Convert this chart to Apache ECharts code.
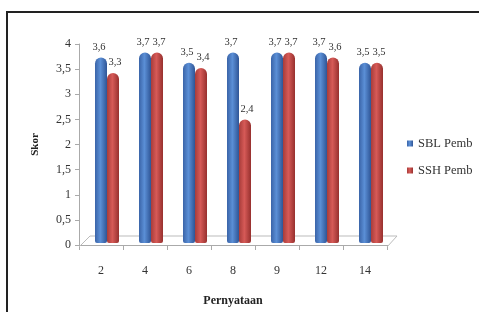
<!DOCTYPE html>
<html><head><meta charset="utf-8">
<script src="https://cdn.jsdelivr.net/npm/echarts@6/dist/echarts.min.js"></script>
<style>html,body{margin:0;padding:0;background:#fff}#c{width:479px;height:312px}</style>
</head><body><div id="c"></div>
<script>
const categories = ['2','4','6','8','9','12','14'];
const sblPemb = [3.6, 3.7, 3.5, 3.7, 3.7, 3.7, 3.5];
const sshPemb = [3.3, 3.7, 3.4, 2.4, 3.7, 3.6, 3.5];
const yTicks = [0, 0.5, 1, 1.5, 2, 2.5, 3, 3.5, 4];

const FONT = '"Liberation Serif", "Times New Roman", serif';
const fmt = v => String(v).replace('.', ',');
const chart = echarts.init(document.getElementById('c'));
function grad(c1, c2, c3){
  return new echarts.graphic.LinearGradient(0,0,1,0,[{offset:0,color:c1},{offset:0.45,color:c2},{offset:1,color:c3}]);
}
chart.setOption({
  animation:false,
  backgroundColor:'#fff',
  graphic:[
    {type:'rect', shape:{x:7,y:12,width:520,height:340}, style:{fill:'none', stroke:'#222', lineWidth:2}, z:100},
    {type:'polyline', shape:{points:[[79,247],[90,236],[397,236],[387,247]]}, style:{stroke:'#bbb', fill:'none', lineWidth:1}, z:1}
  ],
  legend:{
    orient:'vertical', left:402, top:132, itemWidth:6, itemHeight:6, itemGap:14,
    icon:'rect',
    textStyle:{fontFamily:FONT, fontSize:12.5, color:'#333'},
    data:['SBL Pemb','SSH Pemb']
  },
  grid:[
    {left:79, right:92, top:44, bottom:65},
    {left:85, right:86, top:37, bottom:69}
  ],
  xAxis:[
    {type:'category', gridIndex:0, data:categories,
     axisLine:{lineStyle:{color:'#aaa'}}, axisTick:{show:true, length:5, lineStyle:{color:'#aaa'}},
     axisLabel:{fontFamily:FONT, fontSize:12, color:'#333', margin:20},
     name:'Pernyataan', nameLocation:'middle', nameGap:50,
     nameTextStyle:{fontFamily:FONT, fontSize:12, fontWeight:'bold', color:'#222'}},
    {type:'category', gridIndex:1, data:categories, show:false}
  ],
  yAxis:[
    {type:'value', gridIndex:0, min:0, max:4, interval:0.5,
     axisLine:{show:true, lineStyle:{color:'#aaa'}}, axisTick:{show:true, length:4, lineStyle:{color:'#aaa'}},
     splitLine:{show:false},
     axisLabel:{fontFamily:FONT, fontSize:12, color:'#333', margin:8, formatter:v=>fmt(v)},
     name:'Skor', nameLocation:'middle', nameGap:38,
     nameTextStyle:{fontFamily:FONT, fontSize:11, fontWeight:'bold', color:'#222'}},
    {type:'value', gridIndex:1, min:0, max:4, show:false, splitLine:{show:false}}
  ],
  series:[
    {name:'SBL Pemb', type:'bar', xAxisIndex:1, yAxisIndex:1, data:sblPemb, barWidth:12, barGap:'0%',
     itemStyle:{color:grad('#3a64a8','#5b8fd6','#2f5596'), borderRadius:[6,6,2,2]},
     label:{show:true, position:'top', distance:5, offset:[-2,0], formatter:p=>fmt(p.value), fontFamily:FONT, fontSize:10.5, color:'#333'}},
    {name:'SSH Pemb', type:'bar', xAxisIndex:1, yAxisIndex:1, data:sshPemb, barWidth:12, barGap:'0%',
     itemStyle:{color:grad('#a83c3a','#d65a57','#97302e'), borderRadius:[6,6,2,2]},
     label:{show:true, position:'top', distance:5, offset:[2,0], formatter:p=>fmt(p.value), fontFamily:FONT, fontSize:10.5, color:'#333'}}
  ]
});
</script></body></html>
